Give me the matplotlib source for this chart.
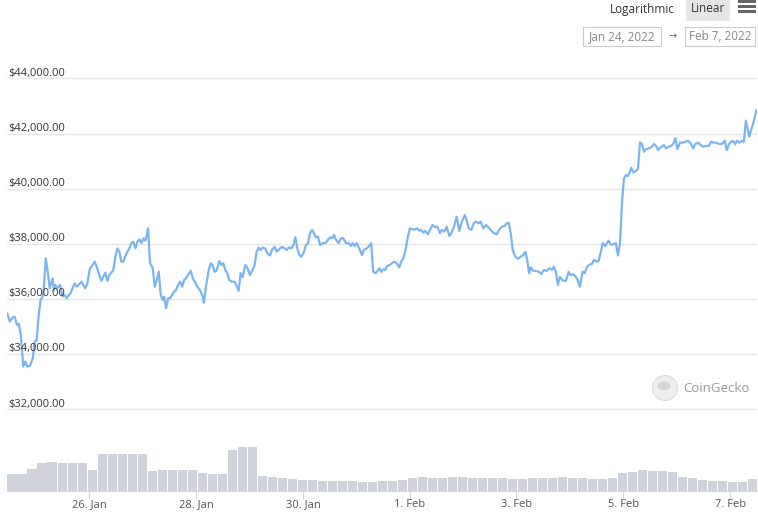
import numpy as np
import pandas as pd
import matplotlib.pyplot as plt
import matplotlib.transforms as mtransforms
from matplotlib.patches import Rectangle, Circle, Ellipse

plt.rcParams['font.family'] = ['Open Sans', 'DejaVu Sans']

# BTC price, hours since 2022-01-24 11:00
start = pd.Timestamp("2022-01-24 11:00")
hours = [0.1, 1.3, 2.4, 3.5, 4.4, 5.3, 6.2, 7.3, 8.2, 9.1,
         10.3, 11.6, 12.4, 13.3, 14.2, 15.1, 16.0, 16.5, 17.4, 18.3,
         19.2, 20.5, 21.1, 21.7, 22.3, 23.8, 25.0, 25.9, 26.8, 28.6,
         30.4, 31.3, 32.2, 33.4, 34.3, 35.2, 36.1, 37.3, 38.2, 39.4,
         40.3, 41.2, 42.4, 43.3, 44.2, 45.1, 46.0, 46.9, 47.8, 48.7,
         49.6, 50.5, 51.4, 52.3, 53.2, 54.1, 55.0, 55.9, 56.8, 57.7,
         58.6, 59.5, 60.4, 61.3, 62.2, 62.8, 63.4, 64.3, 65.5, 66.4,
         67.3, 68.2, 69.1, 70.0, 70.6, 71.5, 72.4, 73.3, 74.2, 75.1,
         76.0, 76.9, 77.8, 78.7, 79.6, 80.4, 81.3, 82.6, 83.5, 84.4,
         85.5, 86.7, 88.0, 88.5, 89.4, 90.7, 91.6, 92.4, 93.3, 94.2,
         95.4, 96.3, 97.2, 98.1, 99.0, 99.9, 101.1, 102.3, 103.2, 104.1,
         105.0, 105.9, 107.1, 108.0, 109.2, 110.4, 111.3, 112.2, 113.1, 114.0,
         114.9, 116.1, 117.0, 118.2, 119.1, 120.3, 121.2, 122.4, 123.6, 124.8,
         125.7, 126.6, 127.8, 128.7, 129.6, 130.5, 131.4, 132.3, 133.2, 134.4,
         135.3, 136.2, 137.1, 138.0, 138.9, 139.8, 140.7, 141.9, 143.1, 144.3,
         145.2, 146.1, 147.0, 147.9, 149.1, 150.2, 151.1, 152.4, 153.6, 154.5,
         155.4, 156.3, 157.2, 158.3, 159.6, 160.4, 161.7, 162.8, 163.7, 164.6,
         165.8, 167.3, 168.2, 169.1, 170.0, 170.9, 172.1, 173.0, 174.2, 175.1,
         176.3, 177.2, 178.1, 179.0, 179.9, 181.1, 182.3, 183.5, 184.4, 185.3,
         186.2, 187.1, 188.0, 189.2, 190.1, 191.3, 192.5, 193.4, 194.6, 195.5,
         196.7, 197.6, 198.8, 199.7, 200.9, 202.1, 203.3, 204.2, 205.7, 206.6,
         207.5, 208.7, 209.9, 210.8, 212.0, 212.9, 214.1, 215.3, 216.5, 217.7,
         218.9, 220.1, 221.3, 222.5, 223.7, 224.6, 225.5, 226.4, 227.3, 228.4,
         229.7, 230.9, 232.1, 233.0, 233.8, 234.7, 235.4, 236.5, 237.8, 239.0,
         240.1, 241.3, 242.6, 243.8, 245.0, 245.8, 246.7, 247.6, 248.5, 249.8,
         251.2, 252.4, 253.3, 254.5, 255.7, 256.6, 257.5, 258.7, 259.6, 260.8,
         262.0, 262.9, 263.8, 265.0, 265.9, 267.1, 267.7, 268.9, 270.4, 271.6,
         272.8, 273.7, 274.6, 275.5, 276.4, 277.3, 278.2, 279.1, 279.7, 280.6,
         281.5, 282.7, 283.6, 284.5, 285.4, 286.3, 287.2, 288.4, 289.6, 290.8,
         292.0, 292.6, 293.8, 295.3, 296.2, 297.4, 298.6, 299.5, 300.4, 301.3,
         302.5, 303.7, 304.9, 306.1, 307.3, 308.4, 309.3, 310.6, 311.8, 312.9,
         314.2, 315.4, 316.5, 317.4, 318.7, 320.1, 321.3, 322.6, 323.5, 324.6,
         325.5, 326.4, 327.3, 328.2, 329.1, 330.3, 331.2, 332.1, 333.6, 335.4,
         336.9]
prices = [35470, 35170, 35310, 35350, 35050, 35090, 34690, 33540, 33720, 33540,
          33570, 33840, 34440, 34480, 35350, 35960, 36080, 36320, 37470, 36980,
          36380, 36740, 36320, 36500, 36380, 36500, 36080, 36140, 36020, 36220,
          36560, 36440, 36500, 36620, 36500, 36380, 36560, 37110, 37190, 37350,
          37170, 36930, 36650, 36800, 36950, 36650, 36860, 36950, 37050, 37530,
          37830, 37710, 37350, 37350, 37550, 37710, 37830, 38020, 38070, 37830,
          38070, 38160, 38020, 38200, 38110, 38320, 38560, 37290, 37110, 36440,
          36680, 36980, 36140, 35960, 36080, 35660, 36020, 36020, 36140, 36260,
          36320, 36500, 36620, 36440, 36680, 36740, 36860, 37020, 36740, 36620,
          36440, 36320, 36080, 35860, 36440, 37050, 37290, 37230, 36980, 37020,
          37370, 37230, 37290, 37050, 36930, 36680, 36620, 36620, 36470, 36290,
          36930, 36780, 37230, 37130, 36860, 37050, 37230, 37710, 37860, 37770,
          37860, 37830, 37650, 37570, 37770, 37890, 37710, 37800, 37890, 37830,
          37770, 37860, 37830, 37950, 38230, 37830, 37590, 37530, 37650, 37950,
          38020, 38380, 38500, 38380, 38230, 38260, 37950, 38020, 38020, 38140,
          38230, 38200, 38320, 38140, 38020, 38200, 38200, 38020, 38020, 37920,
          38020, 37920, 38020, 37830, 37590, 37770, 37830, 37920, 38020, 36980,
          36930, 37110, 36980, 37070, 37050, 37190, 37230, 37290, 37350, 37290,
          37140, 37350, 37470, 37710, 38140, 38560, 38520, 38520, 38560, 38470,
          38500, 38400, 38470, 38340, 38500, 38680, 38600, 38620, 38380, 38500,
          38440, 38620, 38280, 38380, 38620, 38980, 38460, 38740, 39040, 38860,
          38560, 38500, 38760, 38800, 38740, 38800, 38560, 38680, 38580, 38470,
          38380, 38340, 38520, 38620, 38640, 38740, 38760, 38380, 37770, 37530,
          37450, 37530, 37590, 37710, 37410, 36930, 37140, 37020, 37010, 36980,
          36900, 37050, 37010, 37110, 37050, 37170, 36980, 36500, 36800, 36660,
          36650, 36980, 36860, 36890, 36800, 36660, 36440, 36980, 36930, 37170,
          37250, 37260, 37410, 37350, 37370, 37770, 38020, 37920, 38110, 37950,
          37990, 38020, 37570, 37990, 39470, 40370, 40490, 40460, 40560, 40760,
          40580, 40640, 40710, 41670, 41620, 41340, 41430, 41460, 41500, 41620,
          41520, 41400, 41500, 41580, 41460, 41520, 41550, 41640, 41830, 41430,
          41670, 41670, 41700, 41740, 41640, 41460, 41610, 41670, 41580, 41520,
          41550, 41550, 41700, 41670, 41670, 41620, 41620, 41740, 41400, 41620,
          41700, 41730, 41610, 41740, 41670, 41740, 41700, 42470, 41890, 42370,
          42850]

# 24h volume (bn USD), one bar per 4.5 hours
vol_bn = [13.0, 13.1, 16.3, 21.0, 21.8, 21.0, 21.0, 21.0, 16.1, 27.8,
          27.8, 27.8, 27.8, 27.8, 15.0, 15.8, 15.8, 15.8, 15.8, 13.5,
          12.4, 12.4, 30.8, 32.8, 32.8, 11.3, 10.5, 9.8, 9.0, 8.3,
          8.3, 7.5, 7.5, 7.5, 7.5, 6.8, 6.8, 7.5, 7.5, 8.3,
          10.1, 10.5, 9.8, 9.8, 10.5, 10.5, 9.8, 9.8, 9.8, 9.8,
          9.0, 9.0, 9.8, 9.8, 9.8, 10.5, 9.8, 9.8, 9.0, 9.0,
          9.8, 13.3, 14.3, 15.5, 15.0, 15.0, 14.3, 10.7, 9.8, 8.3,
          7.5, 7.5, 7.0, 6.8, 8.8]

price_ticks = [32000, 34000, 36000, 38000, 40000, 42000, 44000]
day_ticks = ["2022-01-26", "2022-01-28", "2022-01-30", "2022-02-01",
             "2022-02-03", "2022-02-05", "2022-02-07"]
day_labels = ["26. Jan", "28. Jan", "30. Jan", "1. Feb", "3. Feb", "5. Feb", "7. Feb"]

W, H = 758, 513
fig = plt.figure(figsize=(W / 100, H / 100), dpi=100)
fig.patch.set_facecolor("white")


def box(x0, y0, x1, y1):
    # pixel box (from top-left) -> figure fraction
    return [x0 / W, 1 - y1 / H, (x1 - x0) / W, (y1 - y0) / H]


def px(x, y):
    # pixel position (from top-left) -> inches for dpi_scale_trans
    return x / 100, (H - y) / 100


pix = fig.dpi_scale_trans

ax = fig.add_axes(box(7, 61.9, 757, 420))
axv = fig.add_axes(box(7, 411, 757, 491), sharex=ax)
for a in (ax, axv):
    a.set_facecolor("none")
    for s in a.spines.values():
        s.set_visible(False)

times = start + pd.to_timedelta(hours, unit="h")
ax.plot(times, prices, color="#7cb5ec", lw=1.6, solid_joinstyle="round", zorder=3)
ax.set_ylim(31600, 44600)
ax.set_yticks(price_ticks)
ax.grid(axis="y", color="#e6e6e6", lw=1)
ax.tick_params(left=False, labelleft=False, bottom=False, labelbottom=False)

lbl_tr = mtransforms.blended_transform_factory(ax.transAxes, ax.transData)
for v in price_ticks:
    ax.text(1 / 750, v + 90, f"${v:,.2f}", transform=lbl_tr, ha="left",
            va="baseline", fontsize=8, color="#333333")

bar_h = np.arange(len(vol_bn)) * 4.5 + 2.25
bar_t = start + pd.to_timedelta(bar_h, unit="h")
axv.bar(bar_t, vol_bn, width=4.1 / 24, color="#d0d3db", linewidth=0)
axv.set_ylim(0, 60)
axv.set_yticks([])
axv.spines["bottom"].set_visible(True)
axv.spines["bottom"].set_color("#ccd6eb")
axv.set_xlim(start, start + pd.Timedelta(hours=337.1))
axv.set_xticks(pd.to_datetime(day_ticks))
axv.set_xticklabels(day_labels)
axv.tick_params(axis="x", length=5.5, color="#ccd6eb", labelsize=8,
                labelcolor="#555555", pad=0.5)

# range selector / toolbar
fig.text(*px(610, 9), "Logarithmic", transform=pix, ha="left", va="center",
         fontsize=8.5, color="#333333")
fig.patches.append(Rectangle(px(686, 21), 0.44, 0.21, transform=pix,
                             facecolor="#e6e6e6", edgecolor="none"))
fig.text(*px(708, 9), "Linear", transform=pix, ha="center", va="center",
         fontsize=8.5, color="#333333")
for yb in (0.5, 5.5, 10.5):
    fig.patches.append(Rectangle(px(738, yb + 2.4), 0.18, 0.024, transform=pix,
                                 facecolor="#666666", edgecolor="none"))
for x0, x1, txt in ((583, 661, "Jan 24, 2022"), (685, 755, "Feb 7, 2022")):
    fig.patches.append(Rectangle(px(x0, 46), (x1 - x0) / 100, 0.19, transform=pix,
                                 facecolor="white", edgecolor="#cccccc", lw=0.8))
    fig.text(*px((x0 + x1) / 2, 36.5), txt, transform=pix, ha="center",
             va="center", fontsize=8.5, color="#888888")
fig.text(*px(673, 37), "→", transform=pix, ha="center", va="center",
         fontsize=7, color="#666666")

# watermark
fig.patches.append(Circle(px(665, 388), 0.125, transform=pix,
                          facecolor="#eeeeee", edgecolor="#dddddd", lw=0.8))
fig.patches.append(Ellipse(px(664, 386), 0.13, 0.09, transform=pix,
                           facecolor="#d6d6d6", edgecolor="none"))
fig.text(*px(683, 388), "CoinGecko", transform=pix, ha="left", va="center",
         fontsize=9.5, color="#999999")

fig.savefig("out.png", dpi=100)
